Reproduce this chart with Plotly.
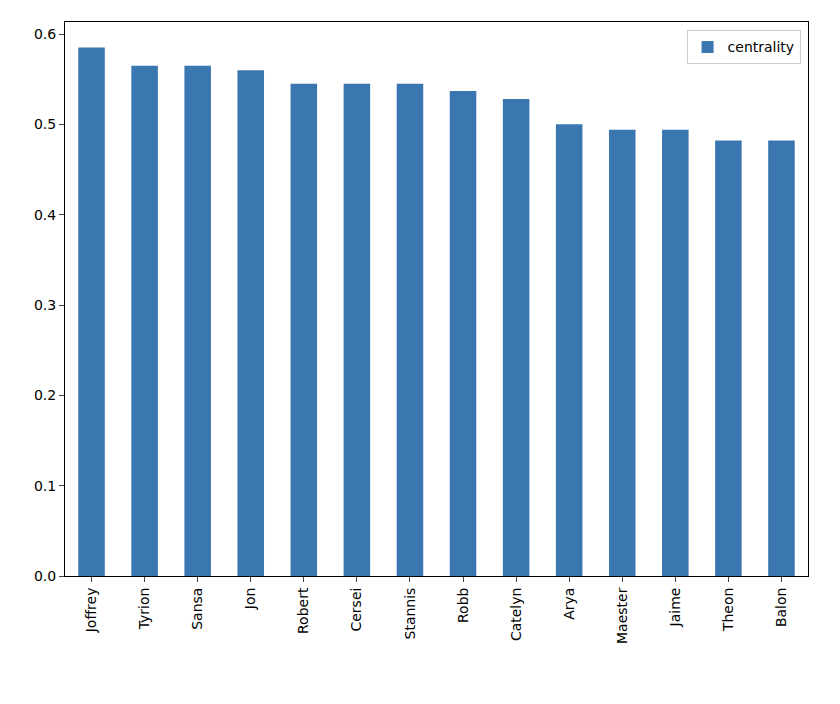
import plotly.graph_objects as go

names = ["Joffrey", "Tyrion", "Sansa", "Jon", "Robert", "Cersei", "Stannis",
         "Robb", "Catelyn", "Arya", "Maester", "Jaime", "Theon", "Balon"]
centrality = [0.585, 0.565, 0.565, 0.560, 0.545, 0.545, 0.545,
              0.537, 0.528, 0.500, 0.494, 0.494, 0.482, 0.482]
y_ticks = [0.0, 0.1, 0.2, 0.3, 0.4, 0.5, 0.6]

fig = go.Figure(go.Bar(x=names, y=centrality, name="centrality",
                       marker_color="#3a76af", marker_line_width=0,
                       width=0.5, showlegend=True))

axis_font = dict(family="DejaVu Sans", size=14, color="black")
fig.update_layout(
    width=840, height=704,
    margin=dict(l=57, r=40, t=14, b=136),
    plot_bgcolor="white", paper_bgcolor="white",
    font=axis_font,
    bargap=0.5,
    xaxis=dict(showline=True, linecolor="black", mirror=True, ticks="outside",
               tickangle=-90, range=[-0.5, len(names) - 0.5], tickfont=axis_font),
    yaxis=dict(showline=True, linecolor="black", mirror=True, ticks="outside",
               range=[0, 0.6133], tickvals=y_ticks, tickformat=".1f",
               showgrid=False, zeroline=False, tickfont=axis_font),
    legend=dict(x=0.99, y=0.985, xanchor="right", yanchor="top",
                bordercolor="#cccccc", borderwidth=1, font=axis_font),
)

fig.write_html("out.html")
